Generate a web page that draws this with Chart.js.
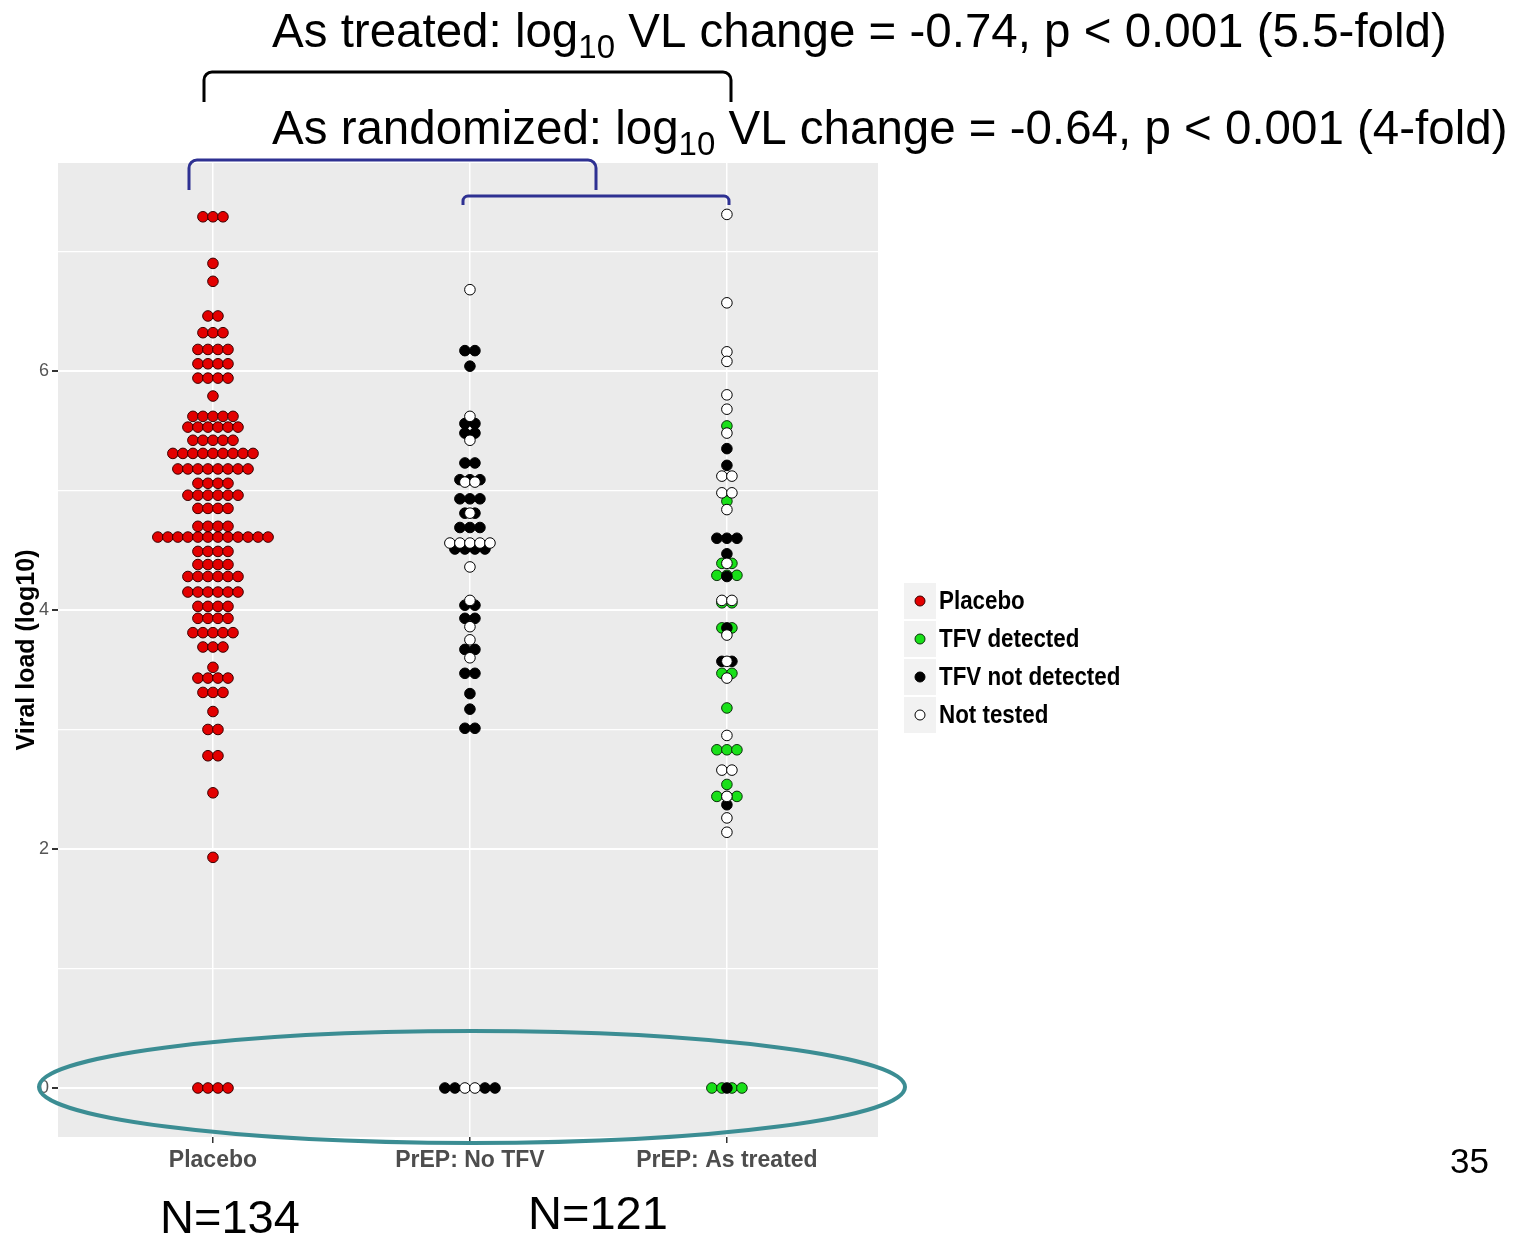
<!DOCTYPE html>
<html>
<head>
<meta charset="utf-8">
<script src="https://cdn.jsdelivr.net/npm/chart.js@4.4.0/dist/chart.umd.min.js"></script>
<style>
  body { margin: 0; background: #fff; }
  canvas { display: block; }
</style>
</head>
<body>
<canvas id="vl-chart" width="1535" height="1236"></canvas>
<script>
// x axis categories
const categories = ['Placebo', 'PrEP: No TFV', 'PrEP: As treated']
// y axis gridlines (even ones get a label)
const yTicks = [0, 1, 2, 3, 4, 5, 6, 7]

// Placebo column: one entry per row of dots -> log10 VL and how many dots
const placeboVL = [7.29, 6.90, 6.75, 6.46, 6.32, 6.18, 6.06, 5.94, 5.79, 5.62, 5.53, 5.42, 5.31, 5.18,
  5.06, 4.96, 4.85, 4.70, 4.61, 4.49, 4.38, 4.28, 4.15, 4.03, 3.93, 3.81, 3.69, 3.52, 3.43, 3.31,
  3.15, 3.00, 2.78, 2.47, 1.93, 0]
const placeboCount = [3, 1, 1, 2, 3, 4, 4, 4, 1, 5, 6, 5, 9, 8,
  4, 6, 4, 4, 12, 4, 4, 6, 6, 4, 4, 5, 3, 1, 4, 3,
  1, 2, 2, 1, 1, 4]

// PrEP columns: one entry per row, letters = dots in that row
// G = TFV detected, K = TFV not detected, W = not tested
const noTfvVL = [6.68, 6.17, 6.04, 5.62, 5.56, 5.48, 5.42, 5.23, 5.09, 5.07, 4.93, 4.81, 4.81, 4.69,
  4.56, 4.51, 4.36, 4.08, 4.04, 3.93, 3.86, 3.75, 3.67, 3.60, 3.47, 3.30, 3.17, 3.01, 0]
const noTfvDots = ['W', 'KK', 'K', 'W', 'KK', 'KK', 'W', 'KK', 'KKK', 'WW', 'KKK', 'KK', 'W', 'KKK',
  'WWWWW', 'KKKK', 'W', 'W', 'KK', 'KK', 'W', 'W', 'KK', 'W', 'KK', 'K', 'K', 'KK', 'KKWWKK']

const treatedVL = [7.31, 6.57, 6.16, 6.08, 5.80, 5.68, 5.54, 5.48, 5.35, 5.21, 5.12, 4.98, 4.91, 4.84,
  4.60, 4.47, 4.39, 4.39, 4.29, 4.28, 4.08, 4.06, 3.85, 3.85, 3.79, 3.57, 3.57, 3.47, 3.43, 3.18,
  2.95, 2.83, 2.66, 2.54, 2.44, 2.44, 2.37, 2.26, 2.14, 0, 0]
const treatedDots = ['W', 'W', 'W', 'W', 'W', 'W', 'G', 'W', 'K', 'K', 'WW', 'WW', 'G', 'W',
  'KKK', 'K', 'GG', 'W', 'GGG', 'K', 'WW', 'GG', 'GG', 'K', 'W', 'KK', 'W', 'GG', 'W', 'G',
  'W', 'GGG', 'WW', 'G', 'GGG', 'W', 'K', 'W', 'W', 'GGGG', 'K']

const legendLabels = ['Placebo', 'TFV detected', 'TFV not detected', 'Not tested']
const legendKeys = ['R', 'G', 'K', 'W']

// colours for each dot group
const fillColors = { R: '#e30000', G: '#19e019', K: '#000000', W: '#ffffff' }
const edgeColors = { R: '#3a0000', G: '#0b300b', K: '#000000', W: '#000000' }

// dotplot stacking: dots in a row sit side by side, centred on the category
let dotStep = 0.039
let points = { R: [], G: [], K: [], W: [] }

function stackRow(col, vl, letters) {
  let n = letters.length
  for (let k = 0; k < n; k++) {
    points[letters[k]].push({ x: col + (k - (n - 1) / 2) * dotStep, y: vl })
  }
}

placeboVL.forEach((v, i) => stackRow(0, v, 'R'.repeat(placeboCount[i])))
noTfvVL.forEach((v, i) => stackRow(1, v, noTfvDots[i]))
treatedVL.forEach((v, i) => stackRow(2, v, treatedDots[i]))

// first dataset is drawn on top
let drawOrder = ['W', 'K', 'G', 'R']
let datasets = drawOrder.map(key => ({
  label: key,
  data: points[key],
  backgroundColor: fillColors[key],
  borderColor: edgeColors[key],
  pointRadius: 5.3,
  pointHoverRadius: 5.3,
  borderWidth: 1
}))

const sans = '"Liberation Sans", Arial, sans-serif'

// grey panel behind the plot
const panelBackground = {
  id: 'panelBackground',
  beforeDraw(chart) {
    let { ctx, chartArea: a } = chart
    ctx.save()
    ctx.fillStyle = '#ebebeb'
    ctx.fillRect(a.left, a.top, a.right - a.left, a.bottom - a.top)
    ctx.restore()
  }
}

function logLine(ctx, x, y, before, after) {
  ctx.font = '47.5px ' + sans
  ctx.fillText(before, x, y)
  x += ctx.measureText(before).width
  ctx.font = '33px ' + sans
  ctx.fillText('10', x, y + 11)
  x += ctx.measureText('10').width
  ctx.font = '47.5px ' + sans
  ctx.fillText(after, x, y)
}

function bracket(ctx, x1, x2, yTop, yEnd, r, color) {
  ctx.beginPath()
  ctx.moveTo(x1, yEnd)
  ctx.arcTo(x1, yTop, x2, yTop, r)
  ctx.arcTo(x2, yTop, x2, yEnd, r)
  ctx.lineTo(x2, yEnd)
  ctx.strokeStyle = color
  ctx.lineWidth = 3
  ctx.stroke()
}

// narrow bold text like the ggplot legend
function squeezedText(ctx, txt, x, y, sx) {
  ctx.save()
  ctx.translate(x, y)
  ctx.scale(sx, 1)
  ctx.fillText(txt, 0, 0)
  ctx.restore()
}

// slide annotations, legend and the highlight ring round the zero row
const annotations = {
  id: 'annotations',
  afterDraw(chart) {
    let ctx = chart.ctx
    ctx.save()
    ctx.fillStyle = '#000'
    ctx.textAlign = 'left'
    ctx.textBaseline = 'alphabetic'
    logLine(ctx, 272, 47, 'As treated: log', ' VL change = -0.74, p < 0.001 (5.5-fold)')
    logLine(ctx, 272, 144, 'As randomized: log', ' VL change = -0.64, p < 0.001 (4-fold)')

    bracket(ctx, 204, 731, 72, 102, 8, '#000')
    bracket(ctx, 189, 596, 160, 190, 8, '#2e3192')
    bracket(ctx, 463, 729, 196, 205, 5, '#2e3192')

    // legend
    legendLabels.forEach((txt, i) => {
      let cy = 601 + i * 38
      ctx.fillStyle = '#f2f2f2'
      ctx.fillRect(904, cy - 18, 32, 36)
      ctx.beginPath()
      ctx.arc(920, cy, 5, 0, Math.PI * 2)
      ctx.fillStyle = fillColors[legendKeys[i]]
      ctx.fill()
      ctx.lineWidth = 1
      ctx.strokeStyle = edgeColors[legendKeys[i]]
      ctx.stroke()
      ctx.fillStyle = '#000'
      ctx.font = 'bold 26px ' + sans
      ctx.textBaseline = 'middle'
      squeezedText(ctx, txt, 939, cy + 1, 0.86)
    })

    // ring round the undetectable row
    ctx.beginPath()
    ctx.ellipse(472, 1087, 433, 56, 0, 0, Math.PI * 2)
    ctx.strokeStyle = '#3b8d93'
    ctx.lineWidth = 4
    ctx.stroke()

    ctx.fillStyle = '#000'
    ctx.textBaseline = 'alphabetic'
    ctx.font = '47px ' + sans
    ctx.fillText('N=134', 160, 1233)
    ctx.fillText('N=121', 528, 1229)
    ctx.font = '35px ' + sans
    ctx.fillText('35', 1450, 1173)
    ctx.restore()
  }
}

let ctx = document.querySelector('#vl-chart').getContext('2d')

let vlChart = new Chart(ctx, {
  type: 'scatter',
  data: { datasets: datasets },
  options: {
    responsive: false,
    animation: false,
    events: [],
    layout: { padding: { top: 163, right: 657, bottom: 39, left: 0 } },
    plugins: {
      legend: { display: false },
      tooltip: { enabled: false }
    },
    scales: {
      x: {
        type: 'linear',
        min: -0.603,
        max: 2.588,
        afterBuildTicks: s => { s.ticks = [0, 1, 2].map(v => ({ value: v })) },
        afterFit: s => { s.height = 60 },
        border: { display: false },
        grid: { color: '#ffffff', lineWidth: 1.5, tickLength: 6, tickColor: '#333333' },
        ticks: {
          callback: v => categories[v],
          color: '#4d4d4d',
          font: { family: sans, size: 23, weight: 'bold' },
          maxRotation: 0,
          padding: 4
        }
      },
      y: {
        min: -0.41,
        max: 7.74,
        afterBuildTicks: s => { s.ticks = yTicks.map(v => ({ value: v })) },
        afterFit: s => { s.width = 58 },
        border: { display: false },
        grid: {
          color: '#ffffff',
          lineWidth: c => (c.tick && c.tick.value % 2 === 0 ? 2 : 1.3),
          tickLength: 6,
          tickColor: c => (c.tick && c.tick.value % 2 === 0 ? '#333333' : 'rgba(0,0,0,0)')
        },
        ticks: {
          callback: v => (v % 2 === 0 ? String(v) : ''),
          color: '#555555',
          font: { family: sans, size: 18 },
          padding: 3
        },
        title: {
          display: true,
          text: 'Viral load (log10)',
          color: '#000',
          font: { family: sans, size: 25, weight: 'bold' },
          padding: { top: 12, bottom: 0 }
        }
      }
    }
  },
  plugins: [panelBackground, annotations]
})
</script>
</body>
</html>
